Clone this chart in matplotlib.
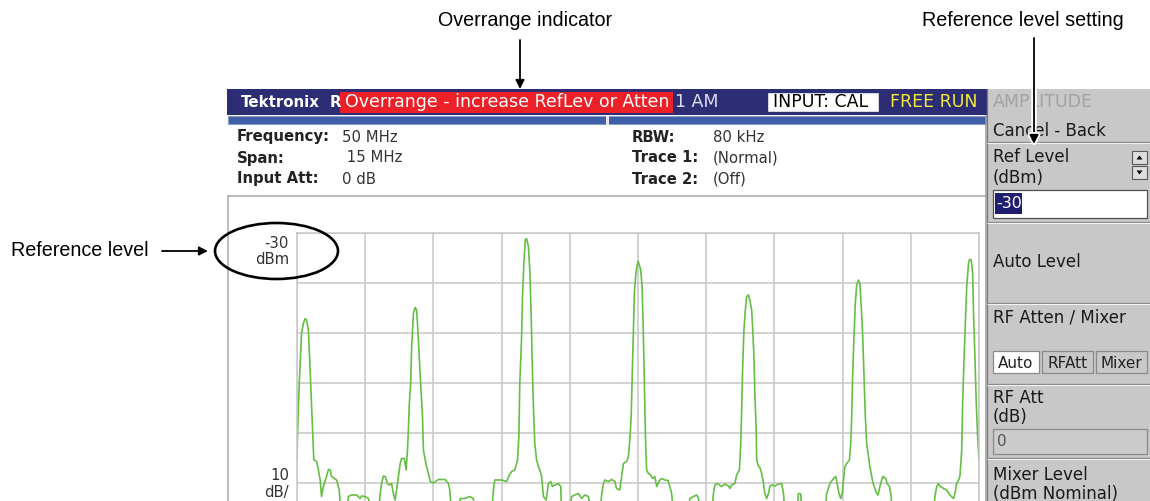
"""Tektronix spectrum analyzer screen with the reference-level callouts."""
import numpy as np
import matplotlib.pyplot as plt
import matplotlib.patheffects as pe
from matplotlib.patches import Rectangle, Ellipse, Polygon

# instrument settings shown on the screen
center_mhz = 50
span_mhz = 15
ref_level_dbm = -30
db_per_div = 10
n_divs = 10
input_att_db = 0
rbw_khz = 80

# trace 1 (MHz, dBm); -86 means below the visible part
trace_mhz = [
    42.50, 42.51, 42.53, 42.55, 42.60, 42.64, 42.68, 42.71, 42.75, 42.77,
    42.80, 42.82, 42.84, 42.87, 42.93, 42.97, 43.01, 43.04, 43.08, 43.15,
    43.19, 43.23, 43.26, 43.37, 43.43, 43.46, 43.59, 43.63, 43.70, 43.81,
    43.89, 43.92, 44.00, 44.07, 44.14, 44.29, 44.33, 44.36, 44.40, 44.44,
    44.49, 44.53, 44.58, 44.62, 44.66, 44.69, 44.73, 44.77, 44.80, 44.86,
    44.90, 44.93, 44.95, 44.97, 45.00, 45.02, 45.06, 45.10, 45.13, 45.15,
    45.18, 45.22, 45.26, 45.28, 45.32, 45.35, 45.39, 45.43, 45.50, 45.61,
    45.76, 45.83, 45.86, 45.90, 46.05, 46.09, 46.19, 46.30, 46.38, 46.41,
    46.78, 46.82, 46.85, 47.00, 47.11, 47.17, 47.22, 47.29, 47.35, 47.38,
    47.40, 47.44, 47.46, 47.49, 47.52, 47.55, 47.59, 47.62, 47.65, 47.67,
    47.70, 47.73, 47.77, 47.81, 47.84, 47.88, 47.92, 47.98, 48.03, 48.08,
    48.12, 48.17, 48.25, 48.30, 48.32, 48.50, 48.54, 48.61, 48.69, 48.76,
    48.83, 48.91, 48.98, 49.16, 49.20, 49.24, 49.27, 49.35, 49.42, 49.49,
    49.53, 49.60, 49.64, 49.68, 49.75, 49.79, 49.82, 49.85, 49.87, 49.90,
    49.92, 49.95, 49.97, 50.00, 50.02, 50.06, 50.09, 50.11, 50.13, 50.15,
    50.17, 50.19, 50.23, 50.28, 50.32, 50.37, 50.41, 50.48, 50.52, 50.59,
    50.66, 50.70, 50.74, 50.78, 51.11, 51.14, 51.22, 51.29, 51.33, 51.36,
    51.62, 51.66, 51.69, 51.74, 51.84, 51.91, 51.99, 52.02, 52.06, 52.13,
    52.17, 52.23, 52.26, 52.28, 52.30, 52.33, 52.36, 52.39, 52.43, 52.46,
    52.50, 52.52, 52.55, 52.57, 52.60, 52.61, 52.65, 52.68, 52.72, 52.76,
    52.79, 52.83, 52.87, 52.90, 52.94, 53.01, 53.09, 53.16, 53.20, 53.23,
    53.49, 53.53, 53.58, 53.60, 54.11, 54.15, 54.22, 54.30, 54.35, 54.38,
    54.42, 54.46, 54.49, 54.52, 54.55, 54.59, 54.65, 54.68, 54.70, 54.72,
    54.75, 54.78, 54.81, 54.85, 54.88, 54.91, 54.94, 54.97, 55.00, 55.03,
    55.07, 55.10, 55.14, 55.17, 55.21, 55.25, 55.28, 55.32, 55.36, 55.39,
    55.45, 55.48, 55.53, 55.56, 55.60, 56.50, 56.53, 56.57, 56.61, 56.64,
    56.72, 56.79, 56.86, 56.94, 56.97, 57.01, 57.05, 57.08, 57.12, 57.14,
    57.17, 57.20, 57.23, 57.27, 57.29, 57.33, 57.36, 57.38, 57.41, 57.44,
    57.47, 57.50]
trace_dbm = [
    -75.1, -70.7, -65.4, -60.1, -50.1, -48.1, -47.1, -47.4, -49.4, -53.4,
    -60.1, -64.1, -69.4, -75.4, -75.7, -77.4, -79.4, -82.7, -80.7, -78.7,
    -77.3, -77.4, -78.7, -79.4, -81.4, -86.0, -86.0, -82.7, -82.4, -82.4,
    -83.1, -82.6, -82.7, -83.1, -86.0, -86.0, -82.1, -80.1, -78.6, -78.7,
    -80.1, -80.4, -80.1, -82.1, -83.4, -81.4, -78.7, -76.1, -75.1, -75.1,
    -77.4, -73.4, -69.4, -64.1, -60.1, -53.4, -46.1, -44.9, -45.4, -48.1,
    -53.4, -60.1, -66.7, -73.4, -75.4, -76.7, -78.1, -79.7, -80.0, -79.3,
    -79.3, -80.1, -81.4, -86.0, -86.0, -83.1, -83.1, -82.7, -83.1, -86.0,
    -86.0, -81.4, -79.4, -79.4, -79.7, -78.4, -77.7, -77.4, -75.4, -70.7,
    -60.1, -50.7, -42.7, -36.1, -31.4, -31.1, -32.7, -37.4, -46.1, -54.7,
    -64.7, -72.1, -75.4, -76.7, -77.4, -78.7, -82.7, -83.4, -80.1, -79.7,
    -80.7, -80.4, -80.1, -80.7, -86.0, -86.0, -82.7, -82.4, -82.1, -83.1,
    -82.4, -82.7, -86.0, -86.0, -82.4, -80.1, -79.4, -79.7, -79.3, -79.7,
    -81.1, -81.4, -78.7, -76.1, -75.7, -74.7, -71.4, -66.7, -59.4, -48.1,
    -42.0, -38.5, -37.0, -35.7, -36.1, -37.4, -40.7, -47.4, -55.4, -64.7,
    -72.7, -77.4, -78.1, -78.4, -79.1, -78.7, -80.7, -79.4, -79.1, -79.4,
    -79.5, -80.7, -82.1, -86.0, -86.0, -83.1, -82.7, -82.4, -83.1, -86.0,
    -86.0, -82.1, -80.4, -80.1, -80.7, -80.2, -80.6, -81.1, -80.4, -80.1,
    -78.4, -77.4, -72.1, -65.4, -57.4, -49.4, -45.4, -42.7, -42.4, -43.4,
    -45.4, -48.7, -54.7, -62.1, -69.4, -75.4, -76.7, -76.9, -78.1, -80.1,
    -82.1, -83.1, -82.1, -80.7, -80.4, -80.6, -80.2, -80.1, -82.1, -86.0,
    -86.0, -82.1, -82.2, -86.0, -86.0, -82.1, -80.1, -79.1, -78.7, -80.1,
    -82.1, -83.1, -82.1, -79.4, -76.7, -76.1, -75.4, -72.1, -66.7, -58.7,
    -50.7, -44.1, -40.4, -39.4, -40.1, -44.7, -50.1, -58.7, -66.7, -72.1,
    -74.7, -76.7, -78.7, -80.1, -81.1, -82.1, -82.4, -80.7, -79.4, -78.7,
    -79.1, -80.1, -80.7, -82.1, -86.0, -86.0, -82.7, -80.7, -80.1, -80.6,
    -81.1, -81.4, -82.4, -83.1, -82.1, -80.1, -79.4, -78.7, -73.4, -64.1,
    -55.4, -48.1, -40.7, -36.1, -35.3, -35.4, -38.1, -46.1, -54.7, -64.1,
    -70.7, -75.4]

W, H = 1150, 501
UI_FONT = 'DejaVu Sans'
NOTE_FONT = ['Liberation Sans Narrow', 'Liberation Sans']
NOTE_SIZE = 14.2
NAVY = '#2c2d74'
PANEL = '#c8c8c8'
GRID = '#c6c6c6'


def box(ax, x0, y0, x1, y1, **kw):
    """Adds a rectangle given by its pixel corners."""
    ax.add_patch(Rectangle((x0, y0), x1 - x0, y1 - y0, **kw))


def txt(ax, x, y, s, size, **kw):
    kw.setdefault('family', UI_FONT)
    kw.setdefault('va', 'center')
    ax.text(x, y, s, fontsize=size, **kw)


def sep(ax, y, x0=987, x1=1150):
    """Raised separator in the softkey panel."""
    ax.plot([x0, x1], [y, y], color='#858585', lw=0.9, solid_capstyle='butt')
    ax.plot([x0, x1], [y + 1.3, y + 1.3], color='#f4f4f4', lw=0.8,
            solid_capstyle='butt')


def pixel_axes(fig, zorder):
    ax = fig.add_axes([0, 0, 1, 1], zorder=zorder)
    ax.set_xlim(0, W)
    ax.set_ylim(H, 0)
    ax.axis('off')
    ax.patch.set_alpha(0)
    return ax


def draw_screen(ax):
    """Title bar, settings readout and frame."""
    box(ax, 227, 89, 987, 115, fc=NAVY, ec='none')
    txt(ax, 241, 102, 'Tektronix', 10.8, color='white', weight='bold')
    txt(ax, 330, 102, 'R', 10.8, color='white', weight='bold')
    box(ax, 340, 92, 673, 113, fc='#ec2027', ec='none')
    txt(ax, 345, 102, 'Overrange - increase RefLev or Atten', 12.5,
        color='white')
    txt(ax, 675, 102, '1 AM', 12.5, color='#dcdcec')
    box(ax, 767, 92, 879, 112, fc='white', ec=NAVY)
    txt(ax, 773, 102, 'INPUT: CAL', 12.5, color='black')
    txt(ax, 890, 102, 'FREE RUN', 12.5, color='#f2ea3c')

    box(ax, 228, 116, 986, 124, fc='#3f5ea8', ec='#8a9cc4', lw=0.8)
    box(ax, 606, 115.5, 609, 124.5, fc='#e8e8f0', ec='none')

    left = [('Frequency:', f'{center_mhz} MHz'),
            ('Span:', f' {span_mhz} MHz'),
            ('Input Att:', f'{input_att_db} dB')]
    right = [('RBW:', f'{rbw_khz} kHz'), ('Trace 1:', '(Normal)'),
             ('Trace 2:', '(Off)')]
    for i, (lab, val) in enumerate(left):
        y = 137 + 21 * i
        txt(ax, 237, y, lab, 10.7, color='#222222', weight='bold')
        txt(ax, 342, y, val, 10.7, color='#333333')
    for i, (lab, val) in enumerate(right):
        y = 137 + 21 * i
        txt(ax, 632, y, lab, 10.7, color='#222222', weight='bold')
        txt(ax, 713, y, val, 10.7, color='#333333')

    # plot panel frame
    ax.plot([228, 986], [196, 196], color='#a8a8a8', lw=1.1)
    ax.plot([228, 228], [196, H], color='#a8a8a8', lw=1.1)
    ax.plot([986, 986], [116, H], color='#9a9a9a', lw=1.1)

    # scale readouts
    txt(ax, 289, 243, f'{ref_level_dbm}', 10.7, color='#333333', ha='right')
    txt(ax, 289, 260, 'dBm', 10.7, color='#333333', ha='right')
    txt(ax, 289, 476, f'{db_per_div}', 10.7, color='#333333', ha='right')
    txt(ax, 289, 493, 'dB/', 10.7, color='#333333', ha='right')


def draw_panel(ax):
    """The AMPLITUDE softkey menu on the right."""
    box(ax, 987, 89, W, H, fc=PANEL, ec='none')
    ax.plot([987, 987], [89, H], color='#7a7a7a', lw=0.9)
    dark = '#1a1a1a'
    x = 993
    txt(ax, x, 102, 'AMPLITUDE', 12.5, color='#a2a2a2')
    txt(ax, x, 131, 'Cancel - Back', 12, color=dark)
    sep(ax, 142)
    txt(ax, x, 157, 'Ref Level', 12, color=dark)
    txt(ax, x, 178, '(dBm)', 12, color=dark)
    for y0, up in [(151, True), (166, False)]:
        box(ax, 1132, y0, 1147, y0 + 13, fc='#dedede', ec='#5a5a5a', lw=0.8)
        cy = y0 + 6.5
        pts = ([(1136.5, cy + 2), (1142.5, cy + 2), (1139.5, cy - 2)] if up
               else [(1136.5, cy - 2), (1142.5, cy - 2), (1139.5, cy + 2)])
        ax.add_patch(Polygon(pts, closed=True, fc='black', ec='none'))
    box(ax, 993, 190, 1147, 218, fc='white', ec='#505050', lw=0.9)
    box(ax, 995, 193, 1022, 214, fc='#1f1f6e', ec='none')
    txt(ax, 996, 203.5, f'{ref_level_dbm}', 11.5, color='white')
    sep(ax, 222)
    txt(ax, x, 262, 'Auto Level', 12, color=dark)
    sep(ax, 303)
    txt(ax, x, 318, 'RF Atten / Mixer', 12, color=dark)
    for x0, x1, lab, fc in [(993, 1039, 'Auto', 'white'),
                            (1042, 1093, 'RFAtt', PANEL),
                            (1096, 1147, 'Mixer', PANEL)]:
        box(ax, x0, 351, x1, 373, fc=fc, ec='#8a8a8a', lw=0.9)
        txt(ax, (x0 + x1) / 2, 363, lab, 11, color='#222222', ha='center')
    sep(ax, 384)
    txt(ax, x, 398, 'RF Att', 12, color=dark)
    txt(ax, x, 417, '(dB)', 12, color=dark)
    box(ax, 993, 429, 1147, 454, fc='#cbcbcb', ec='#8a8a8a', lw=0.9)
    txt(ax, 997, 442, f'{input_att_db}', 11, color='#555555')
    sep(ax, 458)
    txt(ax, x, 475, 'Mixer Level', 12, color=dark)
    txt(ax, x, 494, '(dBm Nominal)', 12, color=dark)


def draw_trace(fig):
    """Graticule and trace, on real data axes."""
    x0, x1, ytop, div_h = 297, 979, 233, 50
    ax = fig.add_axes([x0 / W, (H - ytop - n_divs * div_h) / H,
                       (x1 - x0) / W, n_divs * div_h / H], zorder=2)
    lo, hi = center_mhz - span_mhz / 2, center_mhz + span_mhz / 2
    bottom = ref_level_dbm - n_divs * db_per_div
    ax.set_xlim(lo, hi)
    ax.set_ylim(bottom, ref_level_dbm)
    ax.set_xticks(np.linspace(lo, hi, n_divs + 1))
    ax.set_yticks(np.linspace(bottom, ref_level_dbm, n_divs + 1))
    ax.grid(True, color=GRID, lw=1.1)
    ax.tick_params(length=0, labelbottom=False, labelleft=False)
    for s in ax.spines.values():
        s.set_color(GRID)
        s.set_linewidth(1.1)
    ax.patch.set_alpha(0)
    ax.plot(trace_mhz, trace_dbm, color='#64bf44', lw=1.2)


def draw_notes(ax):
    """Callouts laid over the screenshot."""
    arrow = dict(arrowstyle='-|>', color='black', lw=1.3, mutation_scale=13,
                 shrinkA=0, shrinkB=0)
    ax.text(525, 20, 'Overrange indicator', fontsize=NOTE_SIZE,
            family=NOTE_FONT, ha='center', va='center')
    ax.annotate('', xy=(520, 89), xytext=(520, 40), arrowprops=arrow)

    ax.text(1023, 20, 'Reference level setting', fontsize=NOTE_SIZE,
            family=NOTE_FONT, ha='center', va='center')
    ann = ax.annotate('', xy=(1034, 144), xytext=(1034, 38), arrowprops=arrow)
    ann.arrow_patch.set_path_effects(
        [pe.withStroke(linewidth=4, foreground='white')])

    ax.text(11, 251, 'Reference level', fontsize=NOTE_SIZE, family=NOTE_FONT,
            ha='left', va='center')
    ax.annotate('', xy=(208, 251), xytext=(162, 251), arrowprops=arrow)
    ax.add_patch(Ellipse((276.5, 251), 123, 56, fill=False, ec='black',
                         lw=1.9))


def main():
    fig = plt.figure(figsize=(W / 100, H / 100), dpi=100)
    fig.patch.set_facecolor('white')
    bg = pixel_axes(fig, 0)
    draw_screen(bg)
    draw_panel(bg)
    draw_trace(fig)
    draw_notes(pixel_axes(fig, 5))
    fig.savefig('out.png', dpi=100)


if __name__ == '__main__':
    main()
